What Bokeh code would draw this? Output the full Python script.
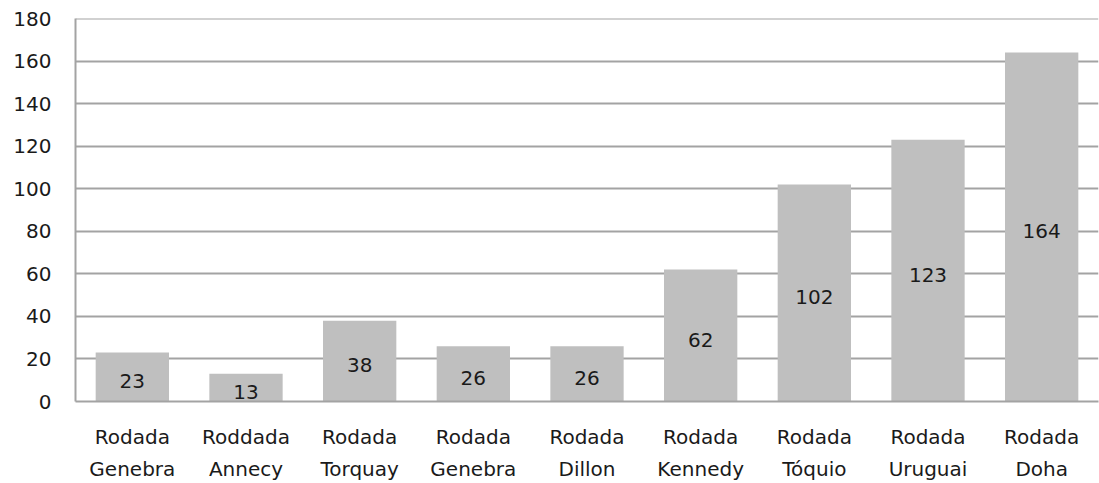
from bokeh.plotting import figure
from bokeh.models import ColumnDataSource, FixedTicker, Range1d, Span
from bokeh.core.properties import value
from bokeh.embed import file_html
from bokeh.resources import INLINE

# Trade rounds and number of participating countries
rounds_line1 = ["Rodada", "Roddada", "Rodada", "Rodada", "Rodada", "Rodada", "Rodada", "Rodada", "Rodada"]
rounds_line2 = ["Genebra", "Annecy", "Torquay", "Genebra", "Dillon", "Kennedy", "Tóquio", "Uruguai", "Doha"]
countries = [23, 13, 38, 26, 26, 62, 102, 123, 164]
y_ticks = [0, 20, 40, 60, 80, 100, 120, 140, 160, 180]

positions = list(range(1, len(countries) + 1))
source = ColumnDataSource(dict(
    x=positions,
    top=countries,
    mid=[v / 2 for v in countries],
    label=[str(v) for v in countries],
))

FONT = "DejaVu Sans"
GRID = "#A3A3A3"
TEXT = "#1a1a1a"

p = figure(
    width=1099, height=483,
    output_backend="svg", toolbar_location=None,
    x_range=Range1d(0.5, len(countries) + 0.5),
    y_range=Range1d(0, 180),
    min_border_left=75, min_border_right=1,
    min_border_top=18, min_border_bottom=81,
)
p.outline_line_color = None
p.background_fill_color = "white"
p.border_fill_color = "white"

p.vbar(x="x", top="top", width=0.645, source=source,
       fill_color="#BFBFBF", line_color=None)

p.text(x="x", y="mid", text="label", source=source,
       text_align="center", text_baseline="middle", y_offset=4,
       text_font=value(FONT), text_font_size="20px", text_color=TEXT)

# top edge of the plot area
p.add_layout(Span(location=180, dimension="width", line_color=GRID, line_width=2))

# Y axis
p.yaxis.ticker = FixedTicker(ticks=y_ticks)
p.yaxis.major_tick_line_color = None
p.yaxis.major_tick_out = 0
p.yaxis.major_tick_in = 0
p.yaxis.minor_tick_line_color = None
p.yaxis.axis_line_color = GRID
p.yaxis.axis_line_width = 2
p.yaxis.major_label_standoff = 24
p.yaxis.major_label_text_font = FONT
p.yaxis.major_label_text_font_size = "20px"
p.yaxis.major_label_text_color = TEXT

# X axis with two-line round names
p.xaxis.ticker = FixedTicker(ticks=positions)
p.xaxis.major_label_overrides = {
    x: f"{a}\n{b}" for x, a, b in zip(positions, rounds_line1, rounds_line2)
}
p.xaxis.major_tick_line_color = None
p.xaxis.major_tick_out = 0
p.xaxis.major_tick_in = 0
p.xaxis.minor_tick_line_color = None
p.xaxis.axis_line_color = GRID
p.xaxis.axis_line_width = 2
p.xaxis.major_label_standoff = 23
p.xaxis.major_label_text_font = FONT
p.xaxis.major_label_text_font_size = "20px"
p.xaxis.major_label_text_color = TEXT
p.xaxis.major_label_text_line_height = 1.35

p.xgrid.grid_line_color = None
p.ygrid.grid_line_color = GRID
p.ygrid.grid_line_width = 2
p.ygrid.level = "underlay"

open("out.html", "w").write(file_html(p, INLINE))
